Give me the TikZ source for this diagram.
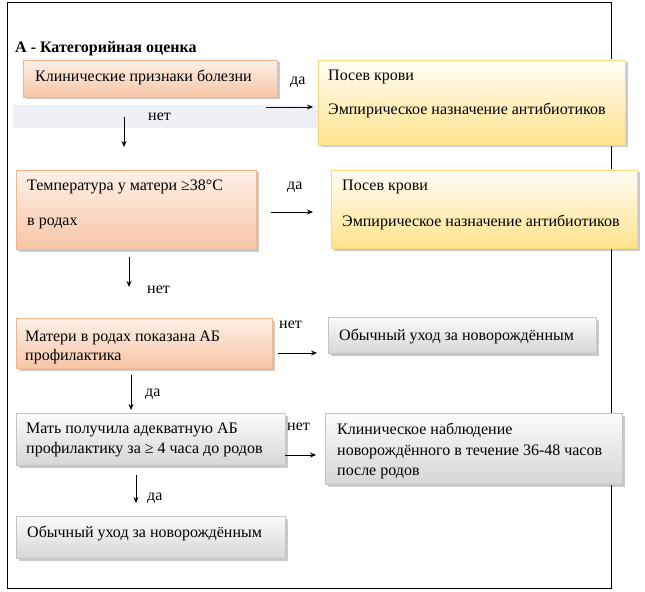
\documentclass[tikz,border=0pt]{standalone}
\usepackage{fontspec}
\setmainfont{Liberation Serif}
\usetikzlibrary{shadows,fit,arrows.meta}
\definecolor{oborder}{HTML}{F4B58C}
\definecolor{otop}{HTML}{FDF0E8}
\definecolor{obot}{HTML}{F7C6A6}
\definecolor{yborder}{HTML}{F9D977}
\definecolor{ytop}{HTML}{FFFDF6}
\definecolor{ybot}{HTML}{FEE38C}
\definecolor{gborder}{HTML}{C4C4C4}
\definecolor{gtop}{HTML}{FBFBFB}
\definecolor{gbot}{HTML}{D6D6D6}
\definecolor{band}{HTML}{EEF0F5}
\tikzset{
  boxbase/.style={inner sep=0pt, line width=0.9bp,
    drop shadow={shadow xshift=2.5bp, shadow yshift=-2.5bp, opacity=0.35, fill=black!60}},
  obox/.style={boxbase, draw=oborder, top color=otop, bottom color=obot},
  ybox/.style={boxbase, draw=yborder, top color=ytop, bottom color=ybot},
  gbox/.style={boxbase, draw=gborder, top color=gtop, bottom color=gbot},
  txt/.style={inner sep=0pt, anchor=base west},
  arr/.style={-{Stealth[length=6bp,width=5bp]}, line width=0.8bp}
}
\begin{document}
\begin{tikzpicture}[x=1bp,y=-1bp, font=\fontsize{16bp}{19bp}\selectfont]
\useasboundingbox (0,0) rectangle (645,592);
% outer frame
\draw[line width=1bp] (7,3) rectangle (611,588);
% light band
\fill[band] (13,105) rectangle (318,128);
% title
\node[txt, font=\fontsize{16bp}{19bp}\selectfont\bfseries] (title) at (15,53) {A - Категорийная оценка};
% boxes
\node[obox, fit={(23,60) (277,97)}] (b1) {};
\node[ybox, fit={(318,60) (625,145)}] (y1) {};
\node[obox, fit={(16,170) (256,249)}] (b2) {};
\node[ybox, fit={(331,170) (637,248)}] (y2) {};
\node[obox, fit={(16,318) (272,368)}] (b3) {};
\node[gbox, fit={(328,317) (596,353)}] (g1) {};
\node[gbox, fit={(16,413) (285,465)}] (b4) {};
\node[gbox, fit={(325,413) (622,484)}] (g2) {};
\node[gbox, fit={(16,516) (285,558)}] (b5) {};
% texts
\node[txt] (t1) at (35,81.5) {Клинические признаки болезни};
\node[txt] (t2a) at (328,81) {Посев крови};
\node[txt] (t2b) at (328,115) {Эмпирическое назначение антибиотиков};
\node[txt] (t3a) at (27,191) {Температура у матери ≥38°C};
\node[txt] (t3b) at (27,225) {в родах};
\node[txt] (t4a) at (342,191) {Посев крови};
\node[txt] (t4b) at (342,226) {Эмпирическое назначение антибиотиков};
\node[txt] (t5a) at (25,341) {Матери в родах показана АБ};
\node[txt] (t5b) at (25,360) {профилактика};
\node[txt] (t6) at (339,340) {Обычный уход за новорождённым};
\node[txt] (t7a) at (26,433) {Мать получила адекватную АБ};
\node[txt] (t7b) at (26,453) {профилактику за ≥ 4 часа до родов};
\node[txt] (t8a) at (337,434) {Клиническое наблюдение};
\node[txt] (t8b) at (337,455) {новорождённого в течение 36-48 часов};
\node[txt] (t8c) at (337,475) {после родов};
\node[txt] (t9) at (27,537) {Обычный уход за новорождённым};
% labels
\node[txt] (l1) at (290,85) {да};
\node[txt] (l2) at (148,121) {нет};
\node[txt] (l3) at (287,190) {да};
\node[txt] (l4) at (147,293) {нет};
\node[txt] (l5) at (279,328) {нет};
\node[txt] (l6) at (145,396) {да};
\node[txt] (l7) at (287,430) {нет};
\node[txt] (l8) at (147,500) {да};
% arrow end points
\coordinate (a1s) at (266,107); \coordinate (a1e) at (313,107);
\coordinate (d1s) at (124,117); \coordinate (d1e) at (124,147);
\coordinate (a2s) at (271,212); \coordinate (a2e) at (313,212);
\coordinate (d2s) at (129,257); \coordinate (d2e) at (129,287);
\coordinate (a3s) at (278,353); \coordinate (a3e) at (317,353);
\coordinate (d3s) at (131,375); \coordinate (d3e) at (131,410);
\coordinate (a4s) at (285,455); \coordinate (a4e) at (316,455);
\coordinate (d4s) at (136,475); \coordinate (d4e) at (136,503);
\draw[arr] (a1s) -- (a1e);
\draw[arr] (d1s) -- (d1e);
\draw[arr] (a2s) -- (a2e);
\draw[arr] (d2s) -- (d2e);
\draw[arr] (a3s) -- (a3e);
\draw[arr] (d3s) -- (d3e);
\draw[arr] (a4s) -- (a4e);
\draw[arr] (d4s) -- (d4e);
\end{tikzpicture}
\end{document}
